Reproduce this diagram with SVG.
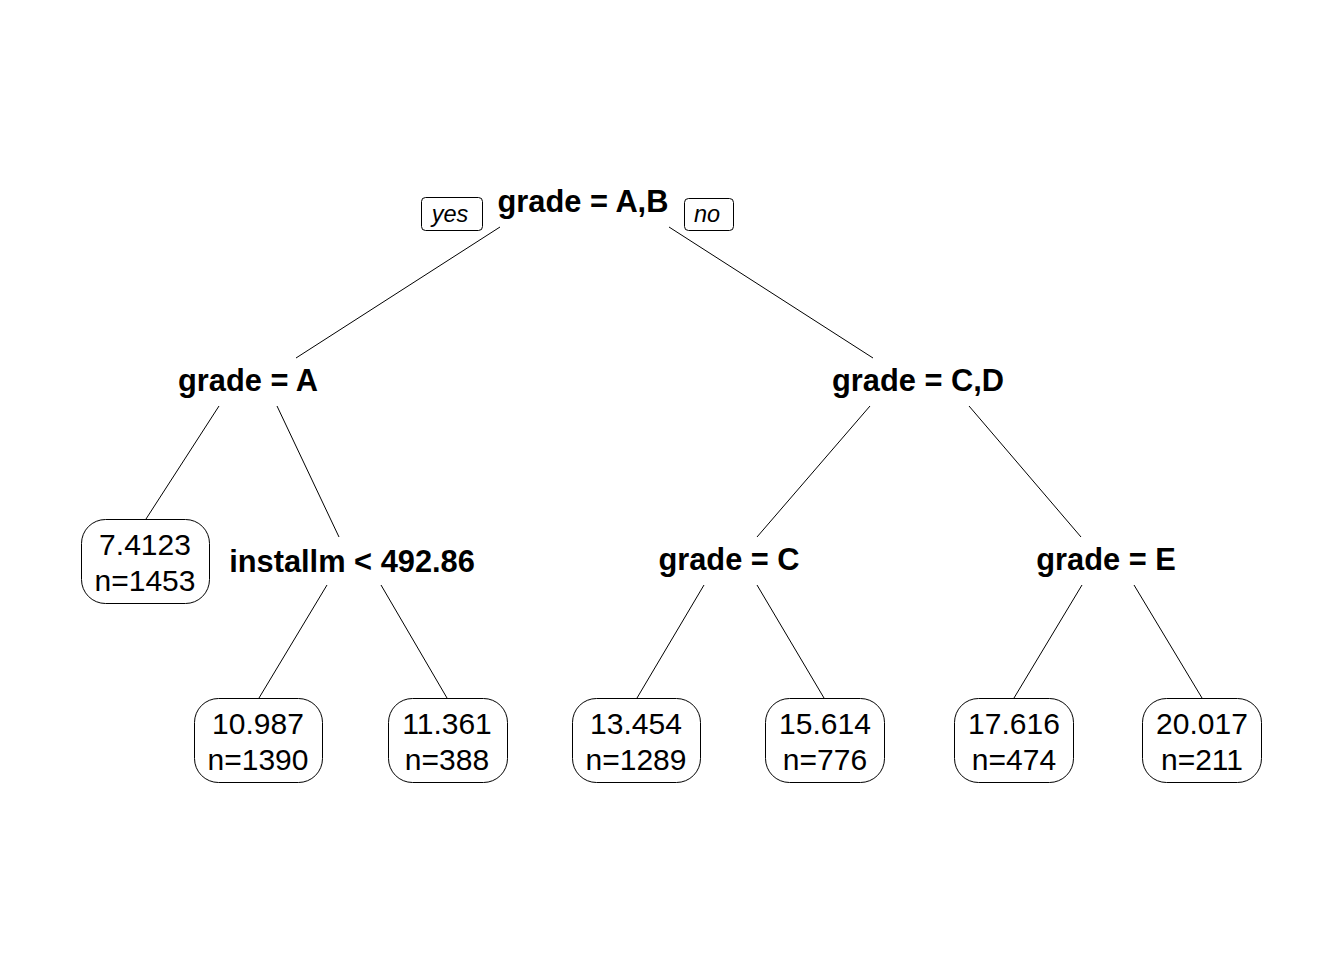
<svg xmlns="http://www.w3.org/2000/svg" width="1344" height="960" viewBox="0 0 1344 960">
<style>
.split{font-family:"Liberation Sans",Arial,sans-serif;font-weight:bold;font-size:30.8px;fill:#000;text-anchor:middle}
.leaf text{font-family:"Liberation Sans",Arial,sans-serif;font-size:30px;fill:#000;text-anchor:middle}
.leaf rect{fill:#fff;stroke:#000;stroke-width:1}
.lab rect{fill:#fff;stroke:#000;stroke-width:1}
.lab text{font-family:"Liberation Sans",Arial,sans-serif;font-style:italic;font-size:23.5px;fill:#000;text-anchor:middle}
#connectors line{stroke:#000;stroke-width:1}
</style>
<rect width="1344" height="960" fill="#fff"/>
<g id="connectors">
<line x1="500" y1="227" x2="296" y2="358"/>
<line x1="669" y1="227" x2="873" y2="358"/>
<line x1="219" y1="406" x2="146" y2="519"/>
<line x1="277" y1="406" x2="339" y2="537"/>
<line x1="327" y1="585" x2="259" y2="698"/>
<line x1="381" y1="585" x2="447" y2="698"/>
<line x1="870" y1="406" x2="757" y2="537"/>
<line x1="969" y1="406" x2="1081" y2="537"/>
<line x1="704" y1="585" x2="637" y2="698"/>
<line x1="757" y1="585" x2="824" y2="698"/>
<line x1="1082" y1="585" x2="1014" y2="698"/>
<line x1="1134" y1="585" x2="1202" y2="698"/>
</g>
<g id="root">
<text class="split" x="583" y="212">grade = A,B</text>
</g>
<g id="label-yes" class="lab">
<rect x="421.5" y="197.5" width="61" height="33" rx="4"/>
<text x="450" y="222">yes</text>
</g>
<g id="label-no" class="lab">
<rect x="684.5" y="198.5" width="49" height="32" rx="4"/>
<text x="707" y="222">no</text>
</g>
<g id="node-gradeA">
<text class="split" x="248" y="391">grade = A</text>
</g>
<g id="node-gradeCD">
<text class="split" x="918" y="391">grade = C,D</text>
</g>
<g id="node-installm">
<text class="split" x="352" y="572">installm &lt; 492.86</text>
</g>
<g id="node-gradeC">
<text class="split" x="729" y="570">grade = C</text>
</g>
<g id="node-gradeE">
<text class="split" x="1106" y="570">grade = E</text>
</g>
<g id="leaf-1" class="leaf">
<rect x="81.5" y="519.5" width="128" height="84" rx="24"/>
<text x="145" y="555">7.4123</text>
<text x="145" y="591">n=1453</text>
</g>
<g id="leaf-2" class="leaf">
<rect x="194.5" y="698.5" width="128" height="84" rx="24"/>
<text x="258" y="734">10.987</text>
<text x="258" y="770">n=1390</text>
</g>
<g id="leaf-3" class="leaf">
<rect x="388.5" y="698.5" width="119" height="84" rx="24"/>
<text x="447" y="734">11.361</text>
<text x="447" y="770">n=388</text>
</g>
<g id="leaf-4" class="leaf">
<rect x="572.5" y="698.5" width="128" height="84" rx="24"/>
<text x="636" y="734">13.454</text>
<text x="636" y="770">n=1289</text>
</g>
<g id="leaf-5" class="leaf">
<rect x="765.5" y="698.5" width="119" height="84" rx="24"/>
<text x="825" y="734">15.614</text>
<text x="825" y="770">n=776</text>
</g>
<g id="leaf-6" class="leaf">
<rect x="954.5" y="698.5" width="119" height="84" rx="24"/>
<text x="1014" y="734">17.616</text>
<text x="1014" y="770">n=474</text>
</g>
<g id="leaf-7" class="leaf">
<rect x="1142.5" y="698.5" width="119" height="84" rx="24"/>
<text x="1202" y="734">20.017</text>
<text x="1202" y="770">n=211</text>
</g>
</svg>
